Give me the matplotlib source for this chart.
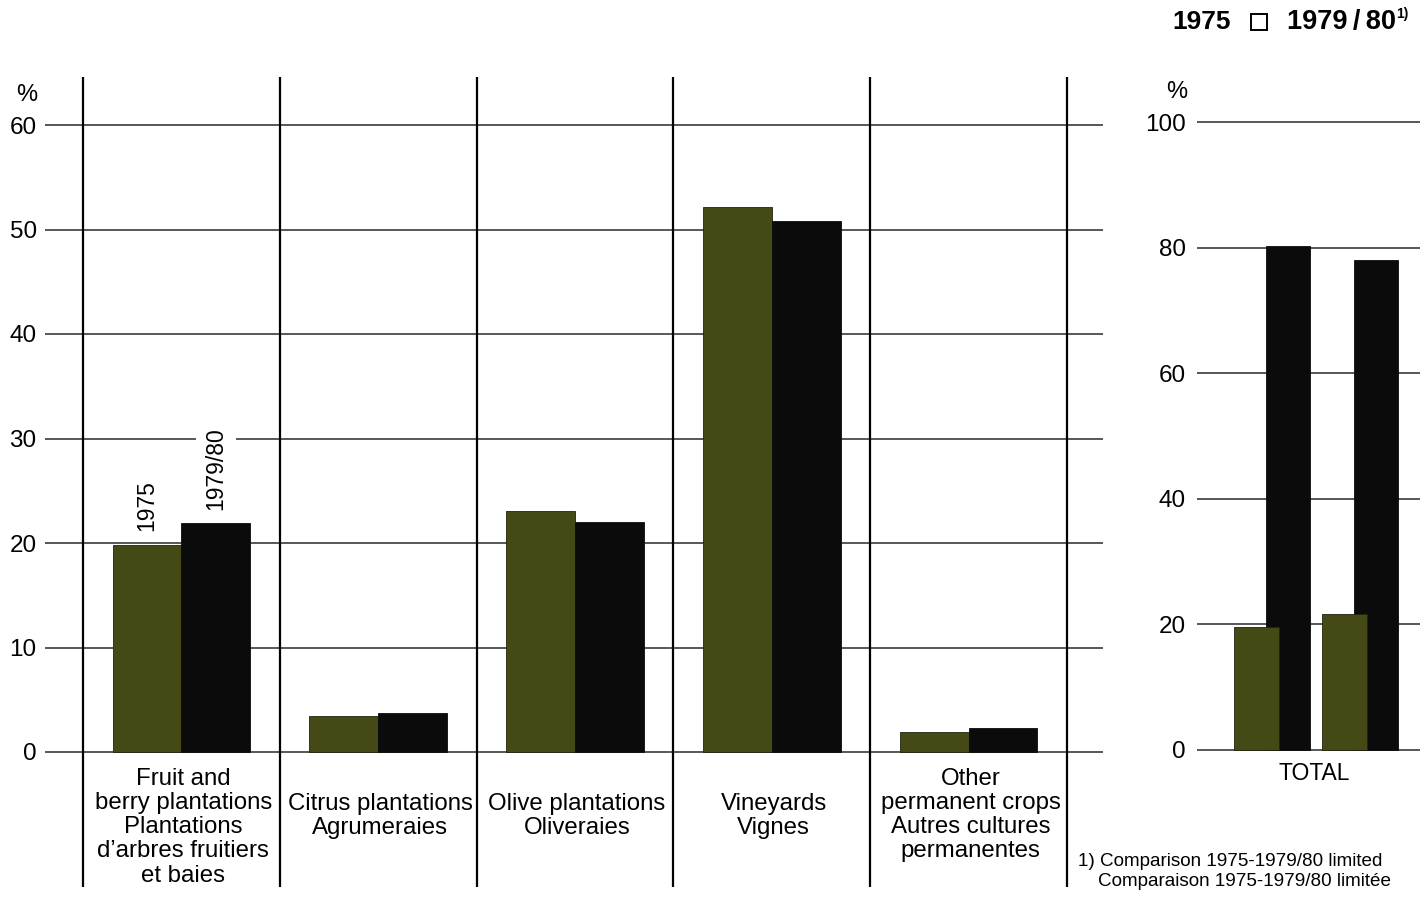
import matplotlib
matplotlib.use("Agg")
import matplotlib.pyplot as plt
from matplotlib.patches import Rectangle

plt.rcParams['font.family'] = ['Liberation Sans', 'DejaVu Sans']

# ---- data ----
categories = [
    "Fruit and\nberry plantations\nPlantations\nd’arbres fruitiers\net baies",
    "Citrus plantations\nAgrumeraies",
    "Olive plantations\nOliveraies",
    "Vineyards\nVignes",
    "Other\npermanent crops\nAutres cultures\npermanentes",
]
values_1975 = [19.8, 3.4, 23.1, 52.2, 1.9]
values_1979 = [21.9, 3.7, 22.0, 50.8, 2.3]
left_ticks = [0, 10, 20, 30, 40, 50, 60]

total_green = [19.6, 21.7]
total_black = [80.3, 78.0]
right_ticks = [0, 20, 40, 60, 80, 100]

GREEN = '#444915'
BLACK = '#0b0b0b'

W, H = 1424, 899
fig = plt.figure(figsize=(W / 100, H / 100), dpi=100)
fig.patch.set_facecolor('white')


def px_axes(l, r, t, b):
    return fig.add_axes([l / W, 1 - b / H, (r - l) / W, (b - t) / H])


# ---- left panel ----
ppu = 10.45  # pixels per unit
y0 = 752
top_px, bot_px = 77, 887
axL = px_axes(45, 1103, top_px, bot_px)
axL.set_ylim(-(bot_px - y0) / ppu, (y0 - top_px) / ppu)
colw = 196.8
axL.set_xlim((45 - 83) / colw - 0.5, (1103 - 83) / colw - 0.5)
for s in axL.spines.values():
    s.set_visible(False)
axL.set_xticks([])
axL.set_yticks(left_ticks)
axL.tick_params(axis='y', length=0, pad=6, labelsize=17.5)
axL.grid(axis='y', color='#2a2a2a', lw=1.1, zorder=0)
axL.set_axisbelow(True)
for b in range(len(categories) + 1):
    axL.axvline(b - 0.5, color='black', lw=1.6, zorder=1)

bw = 0.35
xs = list(range(len(categories)))
axL.bar([x - 0.175 for x in xs], values_1975, width=bw, color=GREEN,
        edgecolor='#22230c', lw=0.6, zorder=3)
axL.bar([x + 0.175 for x in xs], values_1979, width=bw, color=BLACK,
        edgecolor=BLACK, lw=0.6, zorder=3)

# rotated year labels above the first pair
axL.text(-0.175, values_1975[0] + 14 / ppu, "1975", rotation=90, ha='center',
         va='bottom', fontsize=16.5, zorder=4,
         bbox=dict(facecolor='white', edgecolor='none', pad=1))
axL.text(0.175, values_1979[0] + 13 / ppu, "1979/80", rotation=90, ha='center',
         va='bottom', fontsize=16.5, zorder=4,
         bbox=dict(facecolor='white', edgecolor='none', pad=6))

for i, lab in enumerate(categories):
    n = lab.count("\n") + 1
    first_center = 777 if n >= 4 else 802
    ytop = (y0 - (first_center - 9)) / ppu
    axL.text(i + 0.01, ytop, lab, ha='center', va='top', fontsize=17.3,
             linespacing=1.125, zorder=4)

fig.text(27 / W, 1 - 95 / H, "%", ha='center', va='center', fontsize=17)

# ---- right panel ----
ppu_r = 6.28
y0r = 750
axR = px_axes(1197, 1420, 122 - 2 * ppu_r, 750 + 2 * ppu_r)
axR.set_ylim(-2, 102)
gw = 88.0
axR.set_xlim((1197 - 1271.5) / gw, (1420 - 1271.5) / gw)
for s in axR.spines.values():
    s.set_visible(False)
axR.set_xticks([])
axR.set_yticks(right_ticks)
axR.tick_params(axis='y', length=0, pad=8, labelsize=17.5)
axR.grid(axis='y', color='#2a2a2a', lw=1.1, zorder=0)
axR.set_axisbelow(True)
gx = list(range(len(total_green)))
axR.bar([x + 0.19 for x in gx], total_black, width=0.5, color=BLACK,
        edgecolor=BLACK, lw=0.6, zorder=2)
axR.bar([x - 0.175 for x in gx], total_green, width=0.51, color=GREEN,
        edgecolor='#22230c', lw=0.6, zorder=3)
axR.text(0.49, -(774 - y0r) / ppu_r, "TOTAL", ha='center', va='center',
         fontsize=16.5)
fig.text(1177 / W, 1 - 92 / H, "%", ha='center', va='center', fontsize=17)

# ---- header legend ----
fig.text(1172 / W, 1 - 22 / H, "1975", ha='left', va='center', fontsize=19,
         fontweight='bold')
fig.patches.append(Rectangle((1251 / W, 1 - 30 / H), 16 / W, 16 / H,
                             transform=fig.transFigure, fill=False,
                             edgecolor='black', lw=1.4))
fig.text(1287 / W, 1 - 22 / H, "1979\u2009/\u200980", ha='left', va='center',
         fontsize=19.5, fontweight='bold')
fig.text(1396 / W, 1 - 14 / H, "1)", ha='left', va='center', fontsize=10,
         fontweight='bold')

# ---- footnote ----
fig.text(1078 / W, 1 - 862 / H, "1) Comparison 1975-1979/80 limited",
         ha='left', va='center', fontsize=13.6)
fig.text(1098 / W, 1 - 881 / H, "Comparaison 1975-1979/80 limitée",
         ha='left', va='center', fontsize=13.6)

fig.savefig("out.png", dpi=100, facecolor='white')
